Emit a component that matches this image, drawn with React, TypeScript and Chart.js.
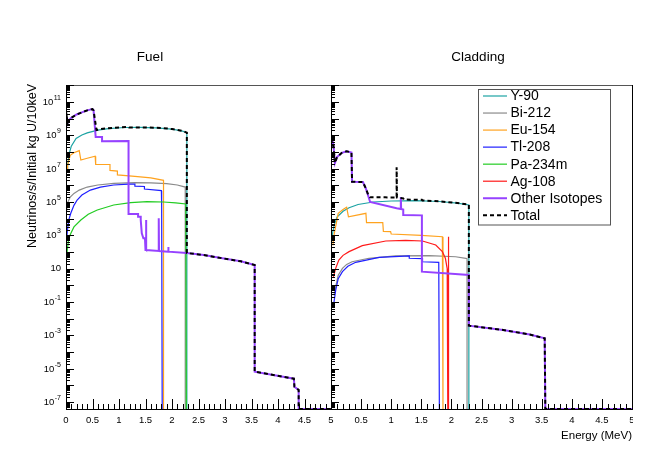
import React, { useEffect, useRef } from 'react';
import { Chart, registerables } from 'chart.js';

Chart.register(...registerables);

// ---------- axis ranges / ticks ----------
const F = 3.8e-8; // bottom of the y axis (also used where a spectrum ends)
const Y_MAX = 1.05e12;
const X_MIN = 0;
const X_MAX = 5;
const X_LABELS = ['0', '0.5', '1', '1.5', '2', '2.5', '3', '3.5', '4', '4.5', '5'];
const Y_LABEL_EXPONENTS = [11, 9, 7, 5, 3, 1, -1, -3, -5, -7];

const SERIES_NAMES = ['Y-90', 'Bi-212', 'Eu-154', 'Tl-208', 'Pa-234m', 'Ag-108', 'Other Isotopes', 'Total'];
const SERIES_COLORS = ['#1ba3a3', '#8a8a8a', '#ffa31f', '#1f1fff', '#22cc22', '#ff1a1a', '#9642ff', '#000000'];
const SERIES_WIDTHS = [1.2, 1.2, 1.2, 1.2, 1.2, 1.2, 2, 2];

// ---------- Fuel (energy MeV, neutrinos/s/initial kg U/10keV) ----------
const fuelY90: [number, number][] = [
  [0.02, 6.3e6], [0.03, 1.66e7], [0.06, 7.9e7], [0.1, 2.24e8], [0.19, 6.6e8], [0.3, 1.05e9],
  [0.4, 1.41e9], [0.6, 2.04e9], [0.8, 2.51e9], [1.1, 2.95e9], [1.4, 3.0e9], [1.7, 2.82e9],
  [2.0, 2.34e9], [2.2, 1.78e9], [2.28, 1.42e9], [2.28, F],
];
const fuelBi212: [number, number][] = [
  [0.01, 2.5e4], [0.024, 8.3e4], [0.08, 2.0e5], [0.15, 3.3e5], [0.25, 5.2e5], [0.4, 7.9e5],
  [0.6, 1.05e6], [0.9, 1.32e6], [1.3, 1.45e6], [1.6, 1.41e6], [1.9, 1.26e6], [2.1, 1.05e6],
  [2.25, 7.9e5], [2.25, F],
];
const fuelEu154: [number, number][] = [
  [0.02, 6e6], [0.03, 1.66e7], [0.08, 6.3e7], [0.15, 9e7], [0.25, 1.2e8], [0.28, 3.3e7],
  [0.4, 4.2e7], [0.55, 5.6e7], [0.56, 1.78e7], [0.83, 1.78e7], [0.83, 7.9e6], [0.97, 7.1e6],
  [0.97, 4.2e6], [1.3, 3.5e6], [1.6, 2.8e6], [1.84, 2.0e6], [1.84, F],
];
const fuelTl208: [number, number][] = [
  [0.015, 6.3e2], [0.024, 1.66e3], [0.05, 7.9e3], [0.09, 2.1e4], [0.15, 6.3e4], [0.21, 1.32e5],
  [0.3, 2.63e5], [0.46, 5.2e5], [0.65, 7.9e5], [0.9, 1.05e6], [1.18, 1.2e6], [1.3, 1.2e6],
  [1.3, 8.9e5], [1.48, 8.5e5], [1.48, 6.0e5], [1.8, 4.8e5], [1.805, 5.0e4], [1.815, F],
];
const fuelPa234m: [number, number][] = [
  [0.012, 40], [0.024, 1.3e2], [0.05, 6.3e2], [0.09, 1.3e3], [0.15, 3.2e3], [0.28, 8.3e3],
  [0.42, 1.86e4], [0.59, 3.3e4], [0.9, 6.6e4], [1.22, 9.1e4], [1.53, 1.05e5], [1.84, 1.0e5],
  [2.07, 8.9e4], [2.26, 7.6e4], [2.27, F],
];
const fuelAg108: [number, number][] = [];
const fuelOther: [number, number][] = [
  [0, 4e9], [0.015, 1.26e10], [0.03, 5.6e9], [0.05, 7.9e9], [0.1, 1.12e10], [0.2, 1.78e10],
  [0.3, 2.4e10], [0.4, 3.16e10], [0.5, 3.8e10], [0.52, 3.16e10], [0.56, 7.9e8], [0.68, 7.9e8],
  [0.68, 4.5e8], [1.18, 4.6e8], [1.18, 1.9e4], [1.36, 1.9e4], [1.36, 1.32e4], [1.41, 1.32e4],
  [1.41, 8.3e3], [1.43, 1.32e3], [1.46, 6.6e2], [1.49, 6.6e2], [1.5, 1.32e2], [1.51, 1.32e2],
  [1.51, 8.3e3], [1.515, 1.3e2], [1.75, 1.15e2], [1.75, 1.05e4], [1.755, 1.15e2], [1.93, 1.05e2],
  [1.93, 2e2], [1.935, 1.05e2], [2.28, 87], [2.6, 66], [2.95, 42], [3.3, 27.5], [3.56, 16.6],
  [3.56, 6.6e-6], [4.3, 2.5e-6], [4.31, 8.3e-7], [4.39, 5.2e-7], [4.39, F], [5, F],
];
const fuelTotal: [number, number][] = [
  [0, 4e9], [0.015, 1.26e10], [0.03, 5.6e9], [0.05, 7.9e9], [0.1, 1.12e10], [0.2, 1.78e10],
  [0.3, 2.4e10], [0.4, 3.16e10], [0.5, 3.8e10], [0.52, 3.16e10], [0.575, 2.1e9], [0.7, 2.5e9],
  [1.0, 3.0e9], [1.18, 3.16e9], [1.19, 2.95e9], [1.5, 3.0e9], [1.8, 2.75e9], [2.0, 2.4e9],
  [2.2, 1.86e9], [2.28, 1.45e9], [2.28, 87], [2.6, 66], [2.95, 42], [3.3, 27.5], [3.56, 16.6],
  [3.56, 6.6e-6], [4.3, 2.5e-6], [4.31, 8.3e-7], [4.39, 5.2e-7], [4.39, F], [5, F],
];

// ---------- Cladding ----------
const cladY90: [number, number][] = [
  [0.01, 4e2], [0.03, 1.6e3], [0.06, 5e3], [0.1, 1.26e4], [0.2, 2.8e4], [0.3, 4.5e4],
  [0.45, 7.1e4], [0.7, 1e5], [1.0, 1.15e5], [1.4, 1.2e5], [1.8, 1.07e5], [2.1, 8.5e4],
  [2.29, 6.6e4], [2.29, F],
];
const cladBi212: [number, number][] = [
  [0.05, 0.25], [0.078, 0.83], [0.12, 4], [0.19, 10.5], [0.26, 18], [0.35, 26], [0.63, 42],
  [1.07, 58], [1.63, 60], [2.07, 52], [2.24, 42], [2.26, 40], [2.26, F],
];
const cladEu154: [number, number][] = [
  [0.03, 2.5e2], [0.055, 1.3e3], [0.12, 2.1e4], [0.2, 3.5e4], [0.26, 4.8e4], [0.29, 1.3e4],
  [0.58, 2.1e4], [0.59, 5.8e3], [0.86, 5.8e3], [0.87, 1.74e3], [0.99, 1.66e3], [1.0, 1.2e3],
  [1.5, 1e3], [1.85, 8.3e2], [1.86, F],
];
const cladTl208: [number, number][] = [
  [0.05, 0.1], [0.078, 0.52], [0.12, 2.5], [0.19, 6.6], [0.28, 14], [0.41, 24], [0.8, 48],
  [1.3, 58], [1.3, 42], [1.52, 40], [1.52, 26], [1.79, 24], [1.8, F],
];
const cladPa234m: [number, number][] = [];
const cladAg108: [number, number][] = [
  [0.04, 3.2], [0.078, 10.5], [0.13, 33], [0.2, 63], [0.3, 105], [0.52, 240], [0.91, 457],
  [1.24, 500], [1.52, 457], [1.74, 263], [1.85, 105], [1.9, 42], [1.93, 10], [1.94, F],
  [1.95, F], [1.95, 830], [1.955, F],
];
const cladOther: [number, number][] = [
  [0, 1.6e8], [0.02, 5.6e8], [0.04, 2.8e8], [0.065, 2.2e7], [0.1, 5e7], [0.18, 8.9e7],
  [0.26, 1.12e8], [0.34, 9.3e7], [0.35, 1.66e6], [0.53, 1.58e6], [0.58, 6.3e5], [0.62, 2.2e5],
  [0.65, 1.0e5], [1.09, 4.2e4], [1.16, 3.8e4], [1.16, 2e5], [1.165, 3.8e4], [1.2, 3.5e4],
  [1.2, 1.66e4], [1.51, 1.58e4], [1.51, 6.6], [2.29, 4.2], [2.29, 3.8e-3], [2.86, 2.1e-3],
  [3.3, 1.12e-3], [3.55, 6.6e-4], [3.56, F], [5, F],
];
const cladTotal: [number, number][] = [
  [0, 1.6e8], [0.02, 5.6e8], [0.04, 2.8e8], [0.065, 2.2e7], [0.1, 5e7], [0.18, 8.9e7],
  [0.26, 1.12e8], [0.34, 9.3e7], [0.35, 1.66e6], [0.53, 1.58e6], [0.58, 6.3e5], [0.62, 2.6e5],
  [0.65, 1.9e5], [0.9, 1.9e5], [1.09, 1.86e5], [1.09, 1.2e7], [1.095, 1.86e5], [1.2, 1.66e5],
  [1.21, 1.41e5], [1.51, 1.35e5], [1.52, 1.23e5], [1.8, 1.1e5], [2.1, 8.7e4], [2.29, 6.9e4],
  [2.29, 3.8e-3], [2.86, 2.1e-3], [3.3, 1.12e-3], [3.55, 6.6e-4], [3.56, F], [5, F],
];

const FONT = '"Liberation Sans", Arial, Helvetica, sans-serif';

function makeDatasets(series: [number, number][][]) {
  return series.map((pts, i) => ({
    label: SERIES_NAMES[i],
    data: pts.map(([x, y]) => ({ x, y })),
    borderColor: SERIES_COLORS[i],
    backgroundColor: SERIES_COLORS[i],
    borderWidth: SERIES_WIDTHS[i],
    borderDash: i === 7 ? [4, 3] : [],
    pointRadius: 0,
    fill: false,
    tension: 0,
    order: i === 7 ? 0 : i === 6 ? 1 : 10 - i,
  }));
}

const rootFrame = {
  id: 'rootFrame',
  afterDraw(chart: any, _args: any, opts: any) {
    const ctx: CanvasRenderingContext2D = chart.ctx;
    const xs = chart.scales.x;
    const ys = chart.scales.y;
    const { left, right, top, bottom } = chart.chartArea;
    ctx.save();

    // top frame line
    ctx.strokeStyle = '#555';
    ctx.lineWidth = 1;
    ctx.beginPath();
    ctx.moveTo(left, top + 0.5);
    ctx.lineTo(right + 1, top + 0.5);
    ctx.stroke();
    if (opts.rightEdge) {
      ctx.strokeStyle = '#000';
      ctx.beginPath();
      ctx.moveTo(right + 0.5, top);
      ctx.lineTo(right + 0.5, bottom + 1);
      ctx.stroke();
    }

    // axes
    ctx.strokeStyle = '#000';
    ctx.beginPath();
    ctx.moveTo(left + 0.5, top);
    ctx.lineTo(left + 0.5, bottom + 0.5);
    ctx.lineTo(right + 1, bottom + 0.5);
    ctx.stroke();

    // x ticks (inside)
    ctx.beginPath();
    for (let i = 0; i <= 50; i++) {
      const px = Math.round(xs.getPixelForValue(i / 10)) + 0.5;
      const len = i % 5 === 0 ? 10 : 5;
      ctx.moveTo(px, bottom);
      ctx.lineTo(px, bottom - len);
    }
    ctx.stroke();

    // y ticks (inside)
    ctx.beginPath();
    for (let e = -9; e <= 12; e++) {
      for (let m = 1; m <= 9; m++) {
        const v = m * Math.pow(10, e);
        if (v < ys.min || v > ys.max) continue;
        const py = Math.round(ys.getPixelForValue(v)) + 0.5;
        const len = m === 1 ? 8 : 4;
        ctx.moveTo(left, py);
        ctx.lineTo(left + len, py);
      }
    }
    ctx.stroke();

    // x labels
    ctx.fillStyle = '#000';
    ctx.font = `9.5px ${FONT}`;
    ctx.textAlign = 'center';
    ctx.textBaseline = 'alphabetic';
    ctx.save();
    ctx.beginPath();
    ctx.rect(0, 0, opts.labelClip, chart.height);
    ctx.clip();
    X_LABELS.forEach((t, i) => {
      if (opts.skipZero && i === 0) return;
      const px = xs.getPixelForValue(i * 0.5);
      ctx.fillText(t, px, 422.5);
    });
    ctx.restore();

    // y labels
    if (opts.yLabels) {
      const xr = left - 5;
      Y_LABEL_EXPONENTS.forEach((e) => {
        const py = ys.getPixelForValue(Math.pow(10, e));
        ctx.textBaseline = 'middle';
        ctx.textAlign = 'right';
        if (e === 1) {
          ctx.font = `9.5px ${FONT}`;
          ctx.fillText('10', xr, py);
          return;
        }
        const ex = String(e);
        ctx.font = `7px ${FONT}`;
        const w = ctx.measureText(ex).width;
        ctx.fillText(ex, xr, py - 4);
        ctx.font = `9.5px ${FONT}`;
        ctx.fillText('10', xr - w - 0.5, py + 0.5);
      });
      // y title
      ctx.save();
      ctx.translate(32.5, top - 1);
      ctx.rotate(-Math.PI / 2);
      ctx.font = `12.5px ${FONT}`;
      ctx.textAlign = 'right';
      ctx.textBaseline = 'middle';
      ctx.fillText('Neutrinos/s/Initial kg U/10keV', 0, 0);
      ctx.restore();
    }

    // pad title
    ctx.font = `13.5px ${FONT}`;
    ctx.textAlign = 'center';
    ctx.textBaseline = 'alphabetic';
    ctx.fillText(opts.title, opts.titleX, 61);

    // x title
    if (opts.xTitle) {
      ctx.font = `11.5px ${FONT}`;
      ctx.textAlign = 'right';
      ctx.fillText('Energy (MeV)', right, 439);
    }

    // legend
    if (opts.legend) {
      const bx = 478.5, by = 89.5, bw = 132, bh = 135.5;
      ctx.fillStyle = '#fff';
      ctx.fillRect(bx, by, bw, bh);
      ctx.strokeStyle = '#555';
      ctx.lineWidth = 1;
      ctx.setLineDash([]);
      ctx.strokeRect(bx, by, bw, bh);
      ctx.font = `14px ${FONT}`;
      ctx.textAlign = 'left';
      ctx.textBaseline = 'middle';
      SERIES_NAMES.forEach((name, i) => {
        const y = 96 + i * 17.04;
        ctx.strokeStyle = SERIES_COLORS[i];
        ctx.lineWidth = SERIES_WIDTHS[i];
        ctx.setLineDash(i === 7 ? [4, 3] : []);
        ctx.beginPath();
        ctx.moveTo(483, y);
        ctx.lineTo(507, y);
        ctx.stroke();
        ctx.setLineDash([]);
        ctx.fillStyle = '#000';
        ctx.fillText(name, 510.5, y + 0.5);
      });
    }
    ctx.restore();
  },
};

function makeConfig(series: [number, number][][], padLeft: number, padRight: number, frame: any): any {
  return {
    type: 'line',
    data: { datasets: makeDatasets(series) },
    options: {
      responsive: false,
      animation: false,
      events: [],
      layout: { padding: { left: padLeft, right: padRight, top: 85, bottom: 41 } },
      scales: {
        x: { type: 'linear', min: X_MIN, max: X_MAX, display: false },
        y: { type: 'logarithmic', min: F, max: Y_MAX, display: false },
      },
      plugins: {
        legend: { display: false },
        tooltip: { enabled: false },
        title: { display: false },
        rootFrame: frame,
      },
    },
    plugins: [rootFrame],
  };
}

export default function App() {
  const leftRef = useRef<HTMLCanvasElement>(null);
  const rightRef = useRef<HTMLCanvasElement>(null);

  useEffect(() => {
    const fuel = new Chart(
      leftRef.current!,
      makeConfig(
        [fuelY90, fuelBi212, fuelEu154, fuelTl208, fuelPa234m, fuelAg108, fuelOther, fuelTotal],
        66, 664 - 331,
        { yLabels: true, title: 'Fuel', titleX: 150, labelClip: 340, skipZero: false, legend: false, xTitle: false, rightEdge: false },
      ),
    );
    const clad = new Chart(
      rightRef.current!,
      makeConfig(
        [cladY90, cladBi212, cladEu154, cladTl208, cladPa234m, cladAg108, cladOther, cladTotal],
        331, 664 - 632,
        { yLabels: false, title: 'Cladding', titleX: 478, labelClip: 633, skipZero: true, legend: true, xTitle: true, rightEdge: true },
      ),
    );
    return () => {
      fuel.destroy();
      clad.destroy();
    };
  }, []);

  const cs: React.CSSProperties = { position: 'absolute', left: 0, top: 0, width: 664, height: 450 };
  return (
    <div style={{ position: 'fixed', left: 0, top: 0, width: 664, height: 450, background: '#fff' }}>
      <canvas ref={leftRef} width={664} height={450} style={cs} />
      <canvas ref={rightRef} width={664} height={450} style={cs} />
    </div>
  );
}
